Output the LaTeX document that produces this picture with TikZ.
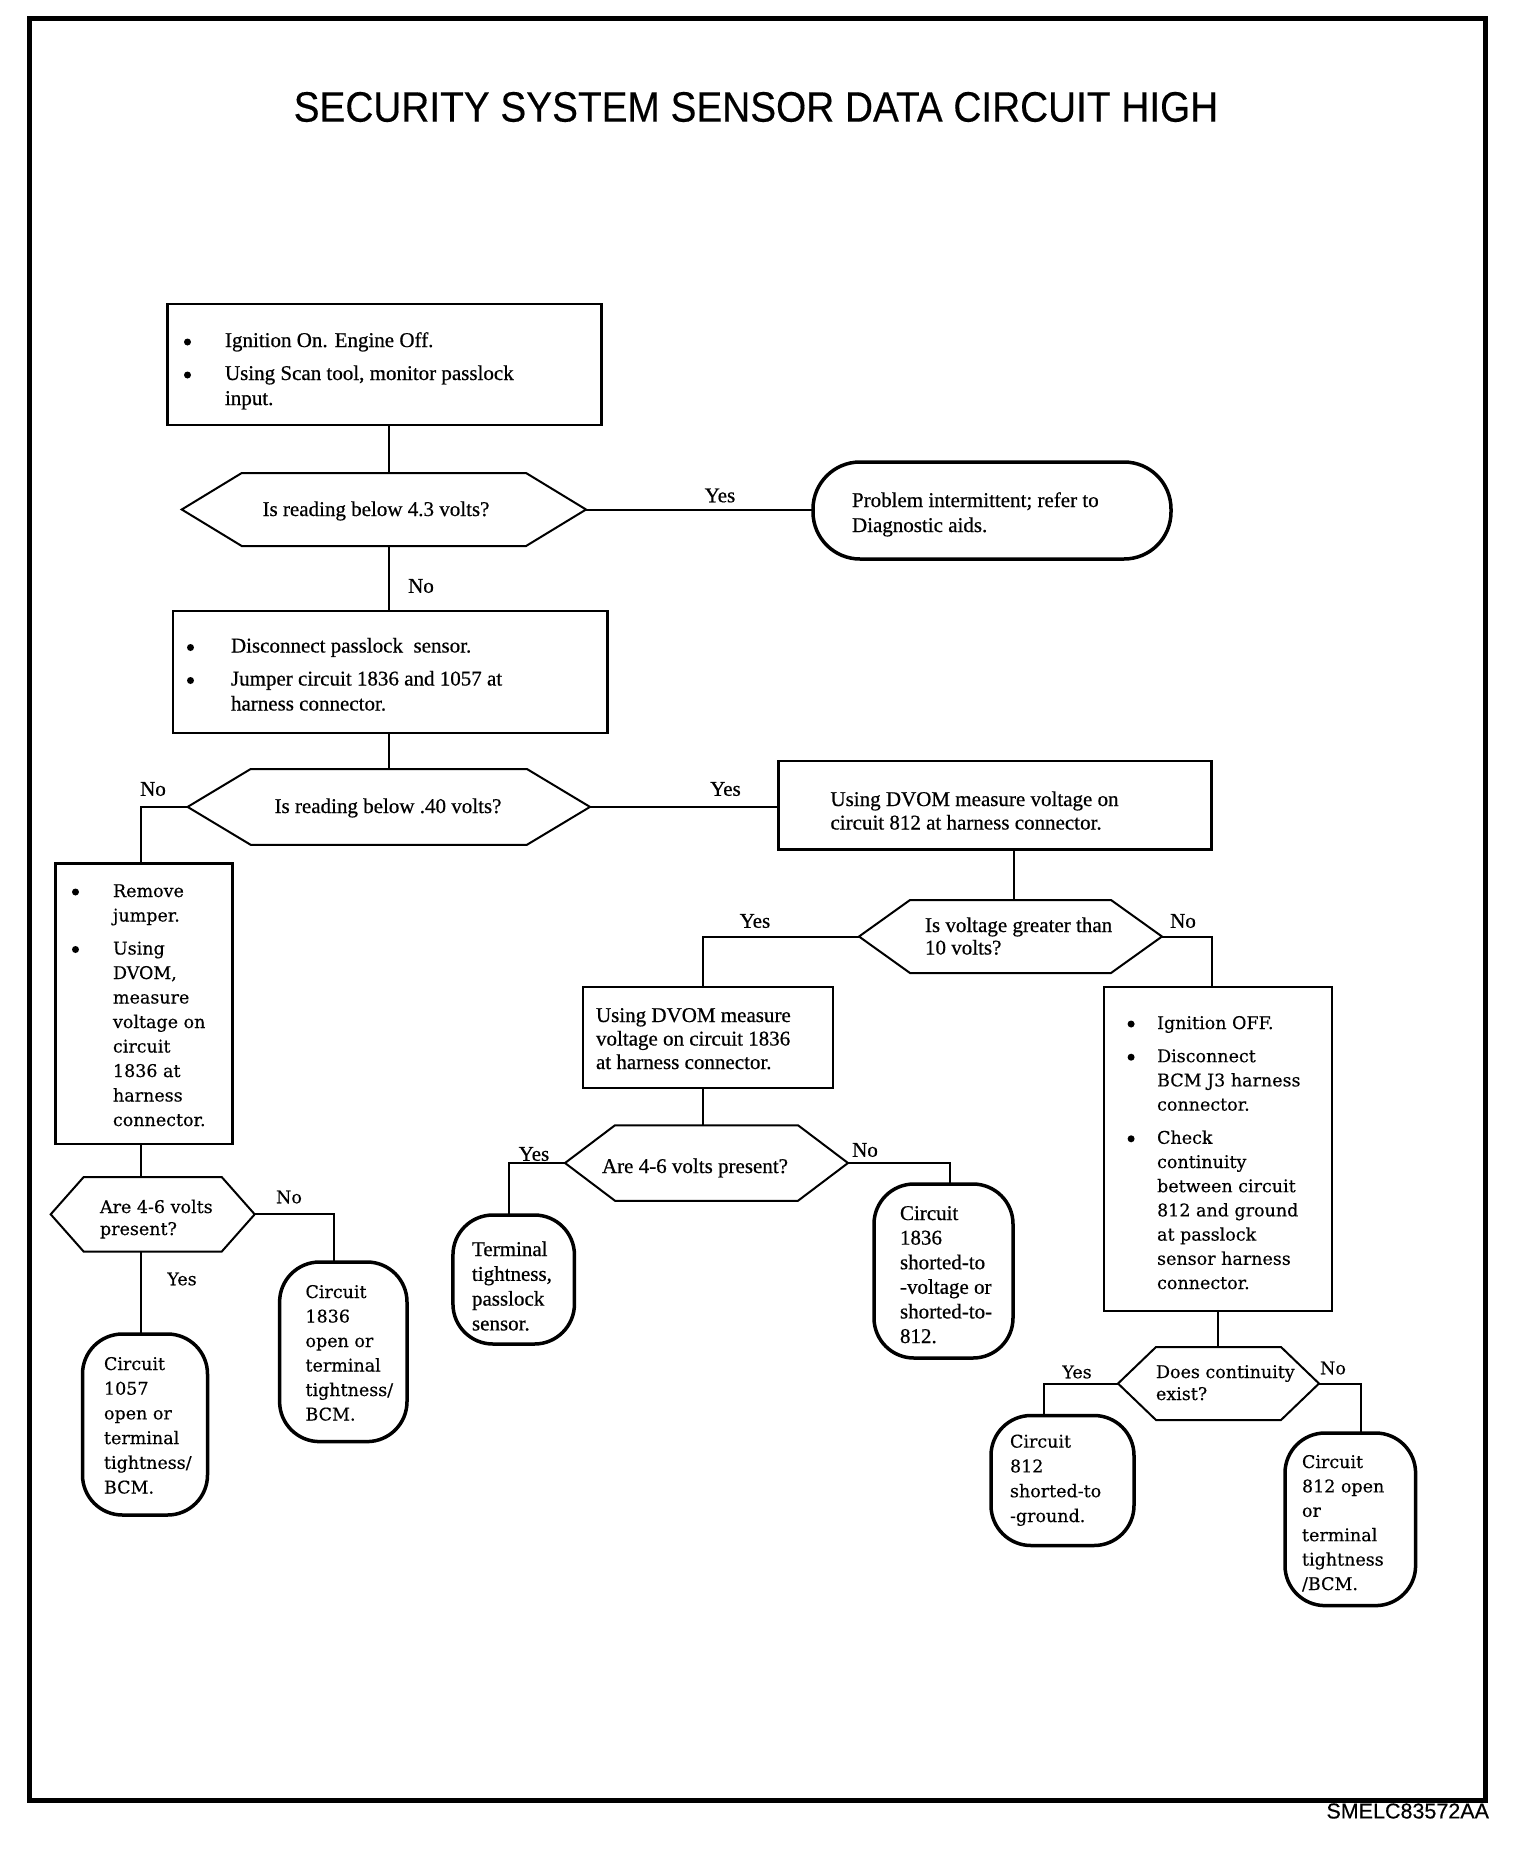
\documentclass[tikz,border=0pt]{standalone}
\usepackage{fontspec}
\setmainfont{Liberation Serif}[FakeBold=0.6]
\newfontfamily\schl{DejaVu Serif}[FakeBold=0.35]
\newfontfamily\hsans{Liberation Sans}[FakeBold=0.4]
\usetikzlibrary{calc}
\newcommand{\tmf}{\fontsize{21}{25}\selectfont}
\newcommand{\schs}{\schl\fontsize{17.5}{24.5}\selectfont}
\newcommand{\bul}[1]{\makebox[#1][l]{\hspace{1pt}\tikz[baseline=0pt]\fill (0,5pt) circle (3.5pt);}}
\newcommand{\hexn}[6]{%
  \node[hexbox, minimum width=#4pt, minimum height=#5pt] (#1) at (#2,#3) {};
  \draw[hexline] (#1.west) -- ($(#1.north west)+(#6,0)$) -- ($(#1.north east)+(-#6,0)$) -- (#1.east) -- ($(#1.south east)+(-#6,0)$) -- ($(#1.south west)+(#6,0)$) -- cycle;}
\tikzset{
  every node/.style={inner sep=0pt, outer sep=0pt},
  box/.style={draw, line width=2.5pt, rectangle},
  hexbox/.style={rectangle},
  hexline/.style={line width=2pt},
  term/.style={draw, line width=3.5pt, rectangle, rounded corners=40pt},
  conn/.style={line width=2pt},
  lbl/.style={font=\tmf},
  slbl/.style={font=\schs},
  txt/.style={anchor=base west, font=\tmf},
  stxt/.style={anchor=base west, font=\schs},
}
\begin{document}
\begin{tikzpicture}[x=1pt,y=-1pt]
\useasboundingbox (0,0) rectangle (1536,1850);
\draw[line width=5pt] (29,18) rectangle (1485,1800);

\node[font=\hsans\fontsize{38}{40}\selectfont] (title) at (756,107) {\scalebox{1.02}[1.12]{SECURITY SYSTEM SENSOR DATA CIRCUIT HIGH}};
\node[font=\hsans\fontsize{21.5}{24}\selectfont, anchor=east] (code) at (1489,1811) {SMELC83572AA};

% boxes
\node[box, minimum width=434pt, minimum height=121pt] (b1) at (384.5,364.5) {};
\node[txt] (b1t) at (183,347) {\begin{tabular}[t]{@{}l@{}l@{}}\bul{42pt} & Ignition On. Engine Off.\\[8pt] \bul{42pt} & Using Scan tool, monitor passlock\\ & input.\end{tabular}};

\node[box, minimum width=434.5pt, minimum height=122pt] (b2) at (390.3,672) {};
\node[txt] (b2t) at (186,652.5) {\begin{tabular}[t]{@{}l@{}l@{}}\bul{45pt} & Disconnect passlock\ \ sensor.\\[8pt] \bul{45pt} & Jumper circuit 1836 and 1057 at\\ & harness connector.\end{tabular}};

\node[box, minimum width=177pt, minimum height=280.5pt] (b3) at (143.9,1003.8) {};
\node[stxt] (b3t) at (71,897) {\begin{tabular}[t]{@{}l@{}l@{}}\bul{42pt} & Remove\\ & jumper.\\[8.5pt] \bul{42pt} & Using\\ & DVOM,\\ & measure\\ & voltage on\\ & circuit\\ & 1836 at\\ & harness\\ & connector.\end{tabular}};

\node[box, minimum width=433pt, minimum height=88.4pt] (b4) at (995.1,805.2) {};
\node[txt, font=\fontsize{21}{23.5}\selectfont] (b4t) at (830.5,806) {\begin{tabular}[t]{@{}l@{}}Using DVOM measure voltage on\\ circuit 812 at harness connector.\end{tabular}};

\node[box, minimum width=250pt, minimum height=101pt] (b5) at (708,1037.5) {};
\node[txt, font=\fontsize{21}{23.5}\selectfont] (b5t) at (596,1022) {\begin{tabular}[t]{@{}l@{}}Using DVOM measure\\ voltage on circuit 1836\\ at harness connector.\end{tabular}};

\node[box, minimum width=228pt, minimum height=324pt] (b6) at (1218,1149) {};
\node[stxt, font=\schl\fontsize{17.5}{24.2}\selectfont] (b6t) at (1126.6,1029) {\begin{tabular}[t]{@{}l@{}l@{}}\bul{30.5pt} & Ignition OFF.\\[9pt] \bul{30.5pt} & Disconnect\\ & BCM J3 harness\\ & connector.\\[9pt] \bul{30.5pt} & Check\\ & continuity\\ & between circuit\\ & 812 and ground\\ & at passlock\\ & sensor harness\\ & connector.\end{tabular}};

% hexagons
\hexn{h1}{383.9}{509.5}{404.3}{73}{60}
\node[anchor=base, font=\tmf] (h1t) at (376,516) {Is reading below 4.3 volts?};
\hexn{h2}{388.8}{806.9}{402.4}{75.7}{63}
\node[anchor=base, font=\tmf] (h2t) at (388,813) {Is reading below .40 volts?};
\hexn{h3}{1010.5}{936.5}{303}{73}{51}
\node[txt, font=\fontsize{21}{22.5}\selectfont] (h3t) at (925,932) {\begin{tabular}[t]{@{}l@{}}Is voltage greater than\\ 10 volts?\end{tabular}};
\hexn{h4}{706.5}{1163}{283}{75.5}{50}
\node[anchor=base, font=\tmf] (h4t) at (695,1173) {Are 4-6 volts present?};
\hexn{h5}{152.7}{1214.3}{204}{74.6}{33}
\node[stxt, font=\schl\fontsize{17.5}{22}\selectfont] (h5t) at (100,1213) {\begin{tabular}[t]{@{}l@{}}Are 4-6 volts\\ present?\end{tabular}};
\hexn{h6}{1218.5}{1383.5}{201}{73}{38}
\node[stxt, font=\schl\fontsize{17.5}{22}\selectfont] (h6t) at (1156,1378) {\begin{tabular}[t]{@{}l@{}}Does continuity\\ exist?\end{tabular}};

% terminals
\node[term, minimum width=358pt, minimum height=97pt, rounded corners=47pt] (t0) at (992,510.5) {};
\node[txt] (t0t) at (852,507) {\begin{tabular}[t]{@{}l@{}}Problem intermittent; refer to\\ Diagnostic aids.\end{tabular}};

\node[term, minimum width=121.5pt, minimum height=129pt] (t1) at (513.7,1279.5) {};
\node[txt, font=\fontsize{21}{24.8}\selectfont] (t1t) at (472,1256) {\begin{tabular}[t]{@{}l@{}}Terminal\\ tightness,\\ passlock\\ sensor.\end{tabular}};

\node[term, minimum width=139pt, minimum height=174pt] (t2) at (943.5,1271) {};
\node[txt, font=\fontsize{21}{24.6}\selectfont] (t2t) at (900,1220) {\begin{tabular}[t]{@{}l@{}}Circuit\\ 1836\\ shorted-to\\ -voltage or\\ shorted-to-\\ 812.\end{tabular}};

\node[term, minimum width=125pt, minimum height=181pt] (t3) at (145,1424.5) {};
\node[stxt, font=\schl\fontsize{17.5}{24.7}\selectfont] (t3t) at (104,1370) {\begin{tabular}[t]{@{}l@{}}Circuit\\ 1057\\ open or\\ terminal\\ tightness/\\ BCM.\end{tabular}};

\node[term, minimum width=127.4pt, minimum height=179.6pt] (t4) at (343.3,1351.8) {};
\node[stxt] (t4t) at (305.5,1298) {\begin{tabular}[t]{@{}l@{}}Circuit\\ 1836\\ open or\\ terminal\\ tightness/\\ BCM.\end{tabular}};

\node[term, minimum width=143pt, minimum height=130pt] (t5) at (1062.5,1480.5) {};
\node[stxt, font=\schl\fontsize{17.5}{24.8}\selectfont] (t5t) at (1010,1447.6) {\begin{tabular}[t]{@{}l@{}}Circuit\\ 812\\ shorted-to\\ -ground.\end{tabular}};

\node[term, minimum width=130.6pt, minimum height=172.6pt] (t6) at (1350.3,1519.3) {};
\node[stxt, font=\schl\fontsize{17.5}{24.4}\selectfont] (t6t) at (1302,1468) {\begin{tabular}[t]{@{}l@{}}Circuit\\ 812 open\\ or\\ terminal\\ tightness\\ /BCM.\end{tabular}};

% connector x positions
\coordinate (xa) at (389,0);
\coordinate (xb) at (140.5,0);
\coordinate (xc) at (1014,0);
\coordinate (xd) at (703,0);
\coordinate (xe) at (1211.5,0);
\coordinate (xf) at (508.5,0);
\coordinate (xg) at (949.5,0);
\coordinate (xh) at (334,0);
\coordinate (xi) at (1217.5,0);
\coordinate (xj) at (1044,0);
\coordinate (xk) at (1361,0);

\draw[conn] (b1.south -| xa) -- (h1.north -| xa);
\draw[conn] (h1.east) -- (h1.east -| t0.west);
\draw[conn] (h1.south -| xa) -- (b2.north -| xa);
\draw[conn] (b2.south -| xa) -- (h2.north -| xa);
\draw[conn] (h2.west) -| (b3.north -| xb);
\draw[conn] (h2.east) -- (h2.east -| b4.west);
\draw[conn] (b4.south -| xc) -- (h3.north -| xc);
\draw[conn] (h3.west) -| (b5.north -| xd);
\draw[conn] (h3.east) -| (b6.north -| xe);
\draw[conn] (b5.south -| xd) -- (h4.north -| xd);
\draw[conn] (h4.west) -| (t1.north -| xf);
\draw[conn] (h4.east) -| (t2.north -| xg);
\draw[conn] (b3.south -| xb) -- (h5.north -| xb);
\draw[conn] (h5.south -| xb) -- (t3.north -| xb);
\draw[conn] (h5.east) -| (t4.north -| xh);
\draw[conn] (b6.south -| xi) -- (h6.north -| xi);
\draw[conn] (h6.west) -| (t5.north -| xj);
\draw[conn] (h6.east) -| (t6.north -| xk);

% labels
\node[lbl] (l1) at (720,495.5) {Yes};
\node[lbl] (l2) at (421,586) {No};
\node[lbl] (l3) at (153,789) {No};
\node[lbl] (l4) at (725.5,789) {Yes};
\node[lbl] (l5) at (755,921) {Yes};
\node[lbl] (l6) at (1183,921) {No};
\node[lbl] (l7) at (534,1154) {Yes};
\node[lbl] (l8) at (865,1150) {No};
\node[slbl] (l9) at (289,1197) {No};
\node[slbl] (l10) at (182,1279) {Yes};
\node[slbl] (l11) at (1077,1372) {Yes};
\node[slbl] (l12) at (1333,1368) {No};
\end{tikzpicture}
\end{document}
